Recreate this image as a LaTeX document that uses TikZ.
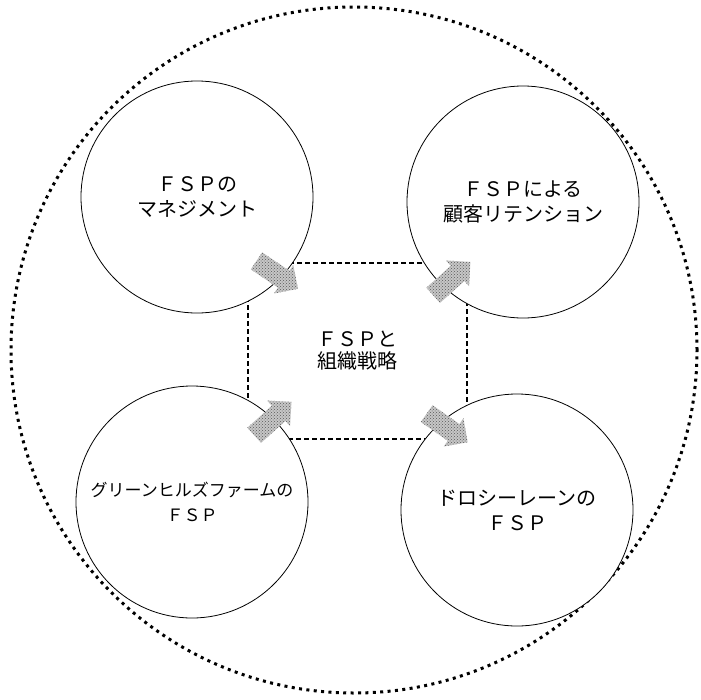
\documentclass[tikz,border=0pt]{standalone}
\usepackage{fontspec}
\newfontfamily\jpfont{Noto Sans CJK JP}
\usetikzlibrary{shapes.arrows, patterns}

\begin{document}
\begin{tikzpicture}[x=1pt, y=-1pt,
    field/.style={draw, circle, fill=white, line width=0.8pt, minimum size=232pt, align=center, font=\jpfont\fontsize{20}{25}\selectfont},
    flow/.style={single arrow, draw=none, fill=gray!45, postaction={pattern=crosshatch dots, pattern color=gray!70!black}, minimum height=50pt, minimum width=34pt, single arrow head extend=7pt, inner sep=10pt}]
    \fill[white] (0,0) rectangle (701,699);
    \useasboundingbox (0,0) rectangle (701,699);
    \draw[line width=3pt, dash pattern=on 3pt off 4.4pt] (354,350) circle (343pt);

    \node (core) [draw, line width=2.4pt, dash pattern=on 5pt off 3pt, minimum width=219pt, minimum height=176pt, align=center, font=\jpfont\fontsize{20}{22}\selectfont] at (357.5,351) {ＦＳＰと\\組織戦略};

    \node (mgmt) [field] at (197,197) {ＦＳＰの\\マネジメント};
    \node (retention) [field] at (523,202) {ＦＳＰによる\\顧客リテンション};
    \node (green) [field, font=\jpfont\fontsize{17}{25}\selectfont] at (192,502) {グリーンヒルズファームの\\ＦＳＰ};
    \node (dorothy) [field] at (517,510) {ドロシーレーンの\\ＦＳＰ};

    \node (f1) [flow, rotate=-34] at (273,272) {};
    \node (f2) [flow, rotate=42] at (448,282) {};
    \node (f3) [flow, rotate=42] at (269,422) {};
    \node (f4) [flow, rotate=-35] at (443,425) {};
\end{tikzpicture}
\end{document}
